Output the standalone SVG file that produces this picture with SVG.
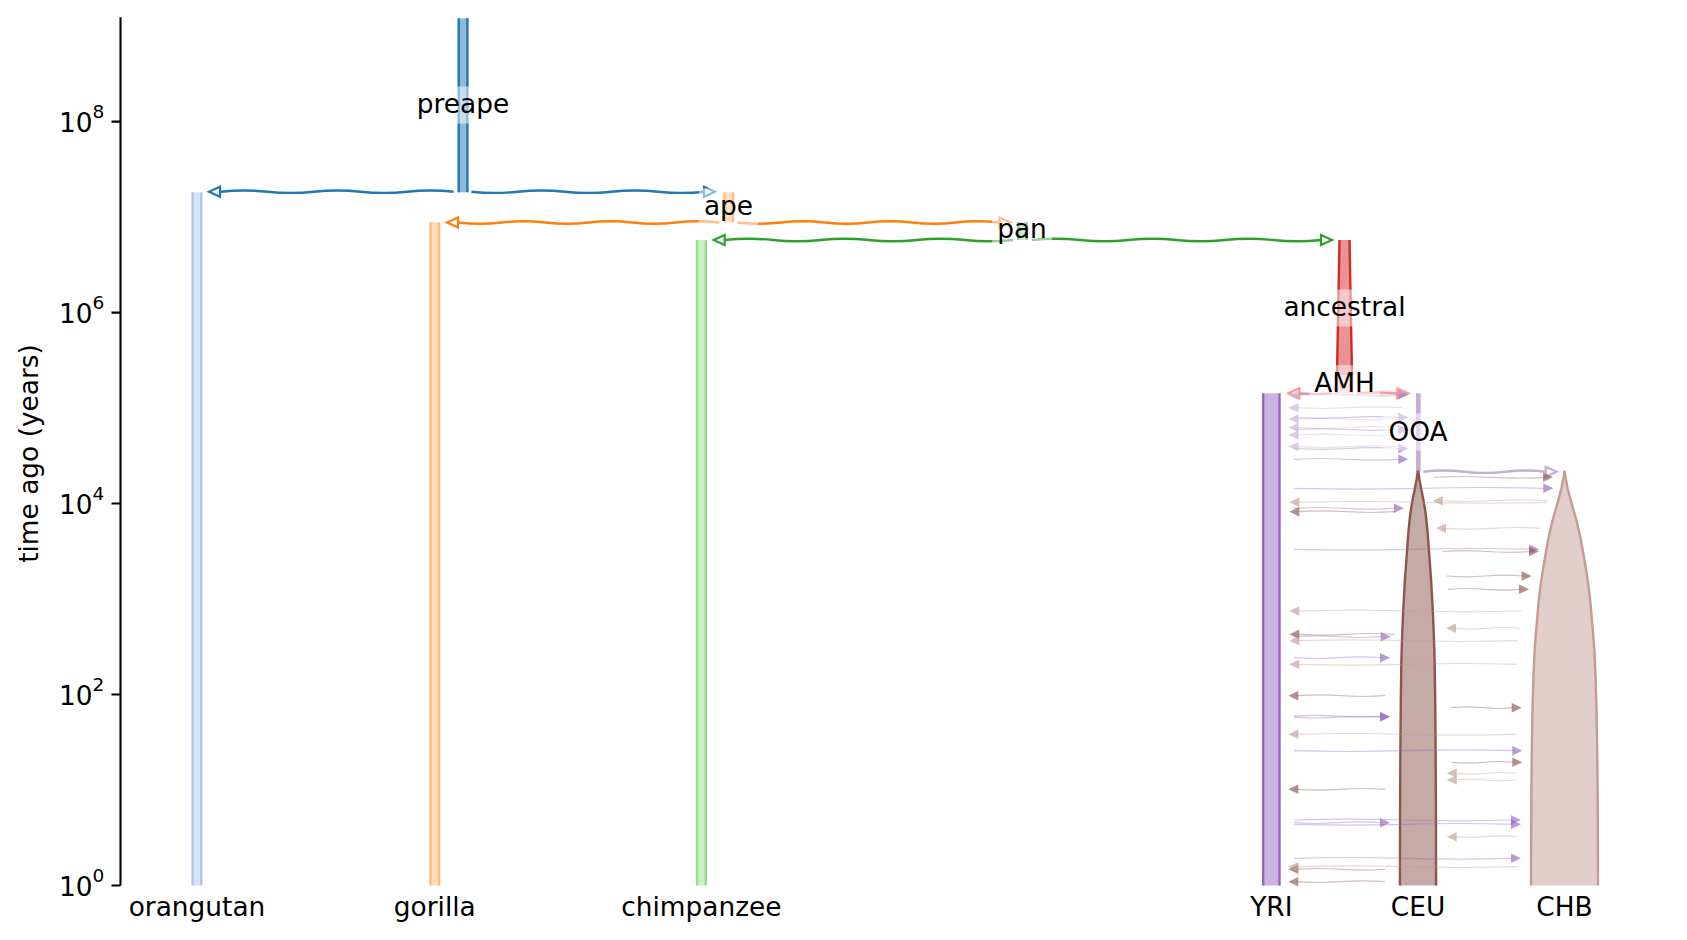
<svg xmlns="http://www.w3.org/2000/svg" width="1687" height="940" viewBox="0 0 1687 940">
<style>
text{font-family:"DejaVu Sans","Liberation Sans",sans-serif;font-size:26.4px;fill:#000}
.lbl{text-anchor:middle}
.box{fill:#fff;fill-opacity:.5}
.edge{fill:none;stroke-width:2.4}
.anc{fill:none;stroke-width:2.4}
.oh{fill:none;stroke-width:2.2;stroke-linejoin:miter}
.l{fill:none;stroke-width:1.2;stroke-opacity:.38}
.a{stroke:none;fill-opacity:.65}
.mY{stroke:#9467bd;fill:#9467bd}
.mO{stroke:#c5b0d5;fill:#c5b0d5}
.mE{stroke:#8c564b;fill:#8c564b}
.mH{stroke:#c49c94;fill:#c49c94}
</style>
<defs>
<path id="oar" d="M0,0L-11,-5L-11,5Z"/>
<path id="oal" d="M0,0L11,-5L11,5Z"/>
<path id="mr" d="M0,0L-10,-4.8L-10,4.8Z"/>
<path id="ml" d="M0,0L10,-4.8L10,4.8Z"/>
</defs>
<rect width="1687" height="940" fill="#fff"/>

<g id="axis">
<path d="M120.5,17.2V885.5" stroke="#000" stroke-width="2.1" fill="none"/>
<path d="M111.5,121.6H120.5M111.5,312.6H120.5M111.5,503.5H120.5M111.5,694.5H120.5M111.5,885.5H120.5" stroke="#000" stroke-width="2.1" fill="none"/>
<text x="104.4" y="132.4" text-anchor="end">10<tspan font-size="18.5" dy="-14">8</tspan></text>
<text x="104.4" y="323.4" text-anchor="end">10<tspan font-size="18.5" dy="-14">6</tspan></text>
<text x="104.4" y="514.3" text-anchor="end">10<tspan font-size="18.5" dy="-14">4</tspan></text>
<text x="104.4" y="705.3" text-anchor="end">10<tspan font-size="18.5" dy="-14">2</tspan></text>
<text x="104.4" y="896.3" text-anchor="end">10<tspan font-size="18.5" dy="-14">0</tspan></text>
<text transform="translate(38,453.5) rotate(-90)" text-anchor="middle">time ago (years)</text>
</g>

<g id="preape">
<rect x="458.7" y="18.3" width="8.7" height="174" fill="#1f77b4" fill-opacity=".5"/>
<path class="edge" stroke="#1f77b4" d="M458.7,18.3V192.3M467.4,18.3V192.3"/>
</g>
<g id="orangutan">
<rect x="192.6" y="192.3" width="8.7" height="693.2" fill="#aec7e8" fill-opacity=".5"/>
<path class="edge" stroke="#aec7e8" d="M192.6,192.3V885.5M201.3,192.3V885.5"/>
<text class="lbl" x="197" y="916">orangutan</text>
</g>
<g id="ape">
<rect x="724.5" y="192.3" width="8.6" height="30" fill="#ff7f0e" fill-opacity=".5"/>
<path class="edge" stroke="#ff7f0e" d="M724.5,192.3V222.3M733.1,192.3V222.3"/>
</g>
<g id="gorilla">
<rect x="430.5" y="222.3" width="8.7" height="663.2" fill="#ffbb78" fill-opacity=".5"/>
<path class="edge" stroke="#ffbb78" d="M430.5,222.3V885.5M439.2,222.3V885.5"/>
<text class="lbl" x="434.8" y="916">gorilla</text>
</g>
<g id="pan">
<rect x="1018.2" y="222.3" width="8.6" height="17.7" fill="#2ca02c" fill-opacity=".5"/>
<path class="edge" stroke="#2ca02c" d="M1018.2,222.3V240M1026.8,222.3V240"/>
</g>
<g id="chimpanzee">
<rect x="697" y="240" width="8.8" height="645.5" fill="#98df8a" fill-opacity=".5"/>
<path class="edge" stroke="#98df8a" d="M697,240V885.5M705.8,240V885.5"/>
<text class="lbl" x="701.4" y="916">chimpanzee</text>
</g>
<g id="ancestral">
<path d="M1339.5,240L1337,375L1352,375L1349.5,240Z" fill="#d62728" fill-opacity=".5"/>
<path class="edge" stroke="#d62728" d="M1339.5,240L1337,375M1349.5,240L1352,375"/>
</g>
<g id="AMH">
<rect x="1336.9" y="375" width="15.2" height="18.3" fill="#ff9896" fill-opacity=".5"/>
<path class="edge" stroke="#ff9896" d="M1336.9,375V393.3M1352.1,375V393.3"/>
</g>
<g id="YRI">
<rect x="1263.2" y="393.3" width="16.3" height="492.2" fill="#9467bd" fill-opacity=".5"/>
<path class="edge" stroke="#9467bd" stroke-width="2.6" d="M1263.2,393.3V885.5M1279.5,393.3V885.5"/>
<text class="lbl" x="1271.3" y="916">YRI</text>
</g>
<g id="OOA">
<rect x="1417.2" y="393.3" width="2.3" height="78.4" fill="#c5b0d5" fill-opacity=".5"/>
<path class="edge" stroke="#c5b0d5" d="M1417.2,393.3V471.7M1419.5,393.3V471.7"/>
</g>
<g id="CEU">
<path fill="#8c564b" fill-opacity=".5" stroke="#8c564b" stroke-width="2.4" stroke-linejoin="round" d="M1399.9,885.5L1400.1,800L1400.4,750L1400.8,700L1401.3,665L1401.6,652L1402.3,632L1403,615L1403.9,598L1404.9,580L1406,565L1407.1,550L1407.8,540L1408.6,530L1409.6,520L1410.9,510L1412.6,500L1414.6,490L1416.5,480L1417.7,471.7L1418.3,471.7L1419.5,480L1421.4,490L1423.4,500L1425.1,510L1426.4,520L1427.4,530L1428.2,540L1428.9,550L1430,565L1431.1,580L1432.1,598L1433,615L1433.7,632L1434.4,652L1434.7,665L1435.2,700L1435.6,750L1435.9,800L1436.1,885.5"/>
<text class="lbl" x="1418" y="916">CEU</text>
</g>
<g id="CHB">
<path fill="#c49c94" fill-opacity=".5" stroke="#c49c94" stroke-width="2.4" stroke-linejoin="round" d="M1531,885.5L1531.3,800L1531.8,750L1532.5,710L1533.3,680L1534.5,652L1535.6,637L1536.9,622L1538.3,605L1540.2,588L1542.7,571L1545.4,555L1548.5,538L1552.2,521.7L1556.9,505L1559.7,495L1561.5,488L1562.7,481L1563.9,476L1564.2,471.7L1564.8,471.7L1565.1,476L1566.3,481L1567.5,488L1569.3,495L1572.1,505L1576.8,521.7L1580.5,538L1583.6,555L1586.3,571L1588.8,588L1590.7,605L1592.1,622L1593.4,637L1594.5,652L1595.7,680L1596.5,710L1597.2,750L1597.7,800L1598,885.5"/>
<text class="lbl" x="1564.5" y="916">CHB</text>
</g>

<g id="connectors">
<g id="ancestry">
<g stroke="#1f77b4">
<path class="anc" d="M453.6,191.7q-23.25,-2.4 -46.5,0t-46.5,0t-46.5,0t-46.5,0t-46.6,0"/>
<use class="oh" href="#oal" x="209" y="191.7"/>
<path class="anc" d="M471.4,191.7q23.35,2.4 46.7,0t46.7,0t46.7,0t46.7,0t46.7,0"/>
<use class="oh" href="#oar" x="715" y="191.7"/>
</g>
<g stroke="#ff7f0e">
<path class="anc" d="M719.5,222.5q-21.8,-2.4 -43.6,0t-43.6,0t-43.6,0t-43.6,0t-43.6,0t-43.6,0"/>
<use class="oh" href="#oal" x="447" y="222.5"/>
<path class="anc" d="M737.5,222.5q21.83,2.4 43.67,0t43.67,0t43.67,0t43.67,0t43.67,0t43.67,0"/>
<use class="oh" href="#oar" x="1010.5" y="222.5"/>
</g>
<g stroke="#2ca02c">
<path class="anc" d="M1013,240q-24.03,2.4 -48.05,0t-48.05,0t-48.05,0t-48.05,0t-48.05,0t-48.05,0"/>
<use class="oh" href="#oal" x="713.7" y="240"/>
<path class="anc" d="M1032,240q24.08,-2.4 48.17,0t48.17,0t48.17,0t48.17,0t48.17,0t48.17,0"/>
<use class="oh" href="#oar" x="1332" y="240"/>
</g>
<g stroke="#ff9896">
<path class="anc" d="M1331.7,393.3q-16.35,1.6 -32.7,0"/>
<use class="oh" href="#oal" x="1288.3" y="393.3"/>
<path class="anc" d="M1357.3,393.3q20,-1.6 40,0"/>
<use class="oh" href="#oar" x="1408.3" y="393.3"/>
</g>
<g stroke="#c5b0d5">
<path class="anc" d="M1423.3,471.7q20.4,-2.4 40.8,0t40.8,0t40.8,0"/>
<use class="oh" href="#oar" x="1556.7" y="471.7"/>
</g>
</g>
<g id="migrations">
<g class="mY">
<path class="l" d="M1294,394.5q26.6,-1.6 53.15,0t53.15,0"/><use class="a" href="#mr" x="1408.3" y="394.5"/>
<path class="l" d="M1294,417.5q26.6,1.6 53.15,0t53.15,0"/><use class="a" href="#mr" x="1408.3" y="417.5"/>
<path class="l" d="M1294,429.5q26.6,-1.6 53.15,0t53.15,0"/><use class="a" href="#mr" x="1408.3" y="429.5"/>
<path class="l" d="M1294,448.5q26.6,1.6 53.15,0t53.15,0"/><use class="a" href="#mr" x="1408.3" y="448.5"/>
<path class="l" d="M1294,459.3q26.6,-1.6 53.15,0t53.15,0"/><use class="a" href="#mr" x="1408.3" y="459.3"/>
<path class="l" d="M1294,488.3q62.8,1.6 125.65,0t125.65,0"/><use class="a" href="#mr" x="1553.3" y="488.3"/>
<path class="l" d="M1294,508.3q25.5,-1.6 51,0t51,0"/><use class="a" href="#mr" x="1404" y="508.3"/>
<path class="l" d="M1294,549.3q59.3,1.6 118.65,0t118.65,0"/><use class="a" href="#mr" x="1539.3" y="549.3"/>
<path class="l" d="M1294,636.7q22.2,-1.6 44.35,0t44.35,0"/><use class="a" href="#mr" x="1390.7" y="636.7"/>
<path class="l" d="M1294,657.7q22,1.6 44,0t44,0"/><use class="a" href="#mr" x="1390" y="657.7"/>
<path class="l" d="M1294,716.2q22,-1.6 44,0t44,0"/><use class="a" href="#mr" x="1390" y="716.7"/>
<path class="l" d="M1294,717.2q22,1.6 44,0t44,0"/><use class="a" href="#mr" x="1390" y="716.7"/>
<path class="l" d="M1294,750.7q55.1,1.6 110.15,0t110.15,0"/><use class="a" href="#mr" x="1522.3" y="750.7"/>
<path class="l" d="M1294,820q54.75,-1.6 109.5,0t109.5,0"/><use class="a" href="#mr" x="1521" y="820"/>
<path class="l" d="M1294,822.7q22,1.6 44,0t44,0"/><use class="a" href="#mr" x="1390" y="822.7"/>
<path class="l" d="M1294,824.3q54.75,1.6 109.5,0t109.5,0"/><use class="a" href="#mr" x="1521" y="824.3"/>
<path class="l" d="M1294,858.3q54.75,-1.6 109.5,0t109.5,0"/><use class="a" href="#mr" x="1521" y="858.3"/>
</g>
<g class="mO">
<path class="l" d="M1401.7,395.5q-26.3,1.6 -52.6,0t-52.6,0"/><use class="a" href="#ml" x="1288.5" y="395.5"/>
<path class="l" d="M1401.7,407.7q-26.3,-1.6 -52.6,0t-52.6,0"/><use class="a" href="#ml" x="1288.5" y="407.7"/>
<path class="l" d="M1401.7,419q-26.3,1.6 -52.6,0t-52.6,0"/><use class="a" href="#ml" x="1288.5" y="419"/>
<path class="l" d="M1401.7,427.5q-26.3,-1.6 -52.6,0t-52.6,0"/><use class="a" href="#ml" x="1288.5" y="427.5"/>
<path class="l" d="M1401.7,435q-26.3,1.6 -52.6,0t-52.6,0"/><use class="a" href="#ml" x="1288.5" y="435"/>
<path class="l" d="M1401.7,446.7q-26.3,-1.6 -52.6,0t-52.6,0"/><use class="a" href="#ml" x="1288.5" y="446.7"/>
</g>
<g class="mE">
<path class="l" d="M1434,477.3q27.75,-1.6 55.5,0t55.5,0"/><use class="a" href="#mr" x="1553" y="477.3"/>
<path class="l" d="M1395,511.7q-24.4,1.6 -48.85,0t-48.85,0"/><use class="a" href="#ml" x="1289.3" y="511.7"/>
<path class="l" d="M1443,551.5q22,-1.6 44,0t44,0"/><use class="a" href="#mr" x="1539" y="551.5"/>
<path class="l" d="M1446.7,576q19.25,1.6 38.5,0t38.5,0"/><use class="a" href="#mr" x="1531.7" y="576"/>
<path class="l" d="M1448,589.3q18.25,-1.6 36.5,0t36.5,0"/><use class="a" href="#mr" x="1529" y="589.3"/>
<path class="l" d="M1395,634.3q-24.4,-1.6 -48.85,0t-48.85,0"/><use class="a" href="#ml" x="1289.3" y="634.3"/>
<path class="l" d="M1385,695.7q-22.2,1.6 -44.35,0t-44.35,0"/><use class="a" href="#ml" x="1288.3" y="695.7"/>
<path class="l" d="M1451,707.7q15.7,-1.6 31.35,0t31.35,0"/><use class="a" href="#mr" x="1521.7" y="707.7"/>
<path class="l" d="M1451.7,762.3q15.65,1.6 31.3,0t31.3,0"/><use class="a" href="#mr" x="1522.3" y="762.3"/>
<path class="l" d="M1385,789.3q-22.2,-1.6 -44.35,0t-44.35,0"/><use class="a" href="#ml" x="1288.3" y="789.3"/>
<path class="l" d="M1385,869.3q-22.2,1.6 -44.35,0t-44.35,0"/><use class="a" href="#ml" x="1288.3" y="869.3"/>
<path class="l" d="M1385,881.7q-22.2,-1.6 -44.35,0t-44.35,0"/><use class="a" href="#ml" x="1288.3" y="881.7"/>
</g>
<g class="mH">
<path class="l" d="M1547,500.7q-26.6,-1.6 -53.15,0t-53.15,0"/><use class="a" href="#ml" x="1432.7" y="500.7"/>
<path class="l" d="M1547,502.3q-62.4,1.6 -124.85,0t-124.85,0"/><use class="a" href="#ml" x="1289.3" y="502.3"/>
<path class="l" d="M1540,528.3q-24,-1.6 -48,0t-48,0"/><use class="a" href="#ml" x="1436" y="528.3"/>
<path class="l" d="M1521.7,611q-56.1,1.6 -112.2,0t-112.2,0"/><use class="a" href="#ml" x="1289.3" y="611"/>
<path class="l" d="M1520,628.3q-16.5,-1.6 -33,0t-33,0"/><use class="a" href="#ml" x="1446" y="628.3"/>
<path class="l" d="M1518,640.7q-55.2,1.6 -110.35,0t-110.35,0"/><use class="a" href="#ml" x="1289.3" y="640.7"/>
<path class="l" d="M1517,664.3q-54.9,-1.6 -109.85,0t-109.85,0"/><use class="a" href="#ml" x="1289.3" y="664.3"/>
<path class="l" d="M1516.7,734.3q-55.1,1.6 -110.2,0t-110.2,0"/><use class="a" href="#ml" x="1288.3" y="734.3"/>
<path class="l" d="M1516.7,773.3q-15.5,-1.6 -31,0t-31,0"/><use class="a" href="#ml" x="1446.7" y="773.3"/>
<path class="l" d="M1516.7,780q-15.5,1.6 -31,0t-31,0"/><use class="a" href="#ml" x="1446.7" y="780"/>
<path class="l" d="M1516.7,836.7q-15.5,-1.6 -31,0t-31,0"/><use class="a" href="#ml" x="1446.7" y="836.7"/>
<path class="l" d="M1516.7,866.7q-55.1,1.6 -110.2,0t-110.2,0"/><use class="a" href="#ml" x="1288.3" y="866.7"/>
</g>
</g>
</g>

<g id="deme-labels">
<rect class="box" x="411.8" y="86.5" width="102.4" height="37"/>
<text class="lbl" x="463" y="113">preape</text>
<rect class="box" x="698.9" y="188.3" width="59.2" height="37"/>
<text class="lbl" x="728.5" y="215">ape</text>
<rect class="box" x="992.2" y="211.5" width="59.7" height="37"/>
<text class="lbl" x="1022" y="238.3">pan</text>
<rect class="box" x="1278.4" y="289.5" width="132.2" height="37"/>
<text class="lbl" x="1344.5" y="316">ancestral</text>
<rect class="box" x="1309.2" y="365.2" width="70.7" height="37"/>
<text class="lbl" x="1344.5" y="391.7">AMH</text>
<rect class="box" x="1383.2" y="413.5" width="69.6" height="37"/>
<text class="lbl" x="1418" y="440.5">OOA</text>
</g>
</svg>
